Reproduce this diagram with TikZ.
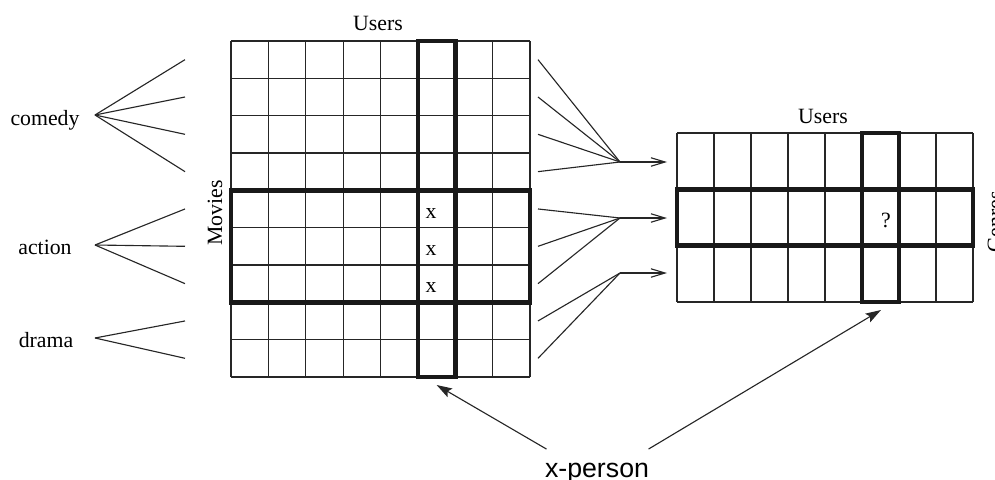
\documentclass[tikz,border=0pt]{standalone}
\usepackage{fontspec}
\setmainfont{Liberation Serif}
\newfontfamily\sansfont{Liberation Sans}
\usetikzlibrary{arrows.meta}

\begin{document}
\begin{tikzpicture}[x=0.025cm, y=-0.025cm, line width=0.8pt, draw=black!85,
    spesso/.style={line width=3.2pt, draw=black!90},
    etichetta/.style={font=\fontsize{15.5}{18}\selectfont, inner sep=0pt, anchor=base},
    freccia/.style={-{Straight Barb[length=10pt,width=6pt]}},
    puntatore/.style={-{Stealth[length=11pt,width=7pt,inset=2pt]}}]

    \useasboundingbox (0,0) rectangle (995,480);

    % -- Matrice grande: Movies x Users (9 righe, 8 colonne) --
    \foreach \i in {0,...,8} \draw (231+37.375*\i, 41) -- (231+37.375*\i, 377);
    \foreach \j in {0,...,9} \draw (231, 41+37.33*\j) -- (530, 41+37.33*\j);

    % Estremi delle righe, a sinistra e a destra della matrice
    \foreach \j in {1,...,9} {
        \coordinate (L\j) at (185, 41+37.33*\j-18.67);
        \coordinate (R\j) at (538, 41+37.33*\j-18.67);
    }

    % Colonna della x-person e righe dei film d'azione
    \draw[spesso] (417.9, 41) rectangle (455.25, 377);
    \draw[spesso] (231, 190.3) rectangle (530, 302.3);
    \coordinate (colG) at (436.6, 385);

    \node[etichetta] (usersG) at (378, 30.5) {Users};
    \node[etichetta, rotate=90] (movies) at (222, 213) {Movies};
    \foreach \k/\y in {1/218, 2/255, 3/292} \node[etichetta] (x\k) at (431, \y) {x};

    % -- Parte Sinistra: generi e ventagli --
    \node[etichetta] (comedy) at (45, 125) {comedy};
    \node[etichetta] (action) at (45, 254) {action};
    \node[etichetta] (drama) at (46, 347) {drama};

    \coordinate (vc) at (95, 115);
    \coordinate (va) at (95, 245);
    \coordinate (vd) at (95, 338);
    \foreach \j in {1,...,4} \draw (vc) -- (L\j);
    \foreach \j in {5,6,7} \draw (va) -- (L\j);
    \foreach \j in {8,9} \draw (vd) -- (L\j);

    % -- Parte Centrale: ventagli verso la matrice dei generi --
    \coordinate (ac) at (620, 162);
    \coordinate (aa) at (620, 218);
    \coordinate (ad) at (620, 273);
    \foreach \j in {1,...,4} \draw (R\j) -- (ac);
    \foreach \j in {5,6,7} \draw (R\j) -- (aa);
    \foreach \j in {8,9} \draw (R\j) -- (ad);

    \coordinate (gc) at (667, 162);
    \coordinate (ga) at (667, 218);
    \coordinate (gd) at (667, 273);
    \draw[freccia] (ac) -- (gc);
    \draw[freccia] (aa) -- (ga);
    \draw[freccia] (ad) -- (gd);

    % -- Parte Destra: Genres x Users (3 righe, 8 colonne) --
    \foreach \i in {0,...,8} \draw (677+37*\i, 133) -- (677+37*\i, 302);
    \foreach \j in {0,...,3} \draw (677, 133+56.33*\j) -- (973, 133+56.33*\j);

    \draw[spesso] (862, 133) rectangle (899, 302);
    \draw[spesso] (677, 189.3) rectangle (973, 245.7);
    \coordinate (colP) at (881, 310);

    \node[etichetta] (usersP) at (823, 123) {Users};
    \node[etichetta] (domanda) at (886, 227) {?};
    \node[etichetta, rotate=90, anchor=north] (genres) at (987, 222) {Genres};

    % -- In basso: la x-person --
    \node[font=\sansfont\fontsize{19}{22}\selectfont, inner sep=0pt, anchor=base] (xp) at (597, 477) {x-person};
    \draw[puntatore] ([shift={(2,-13)}]xp.north west) -- (colG);
    \draw[puntatore] ([shift={(-1,-13)}]xp.north east) -- (colP);
\end{tikzpicture}
\end{document}
